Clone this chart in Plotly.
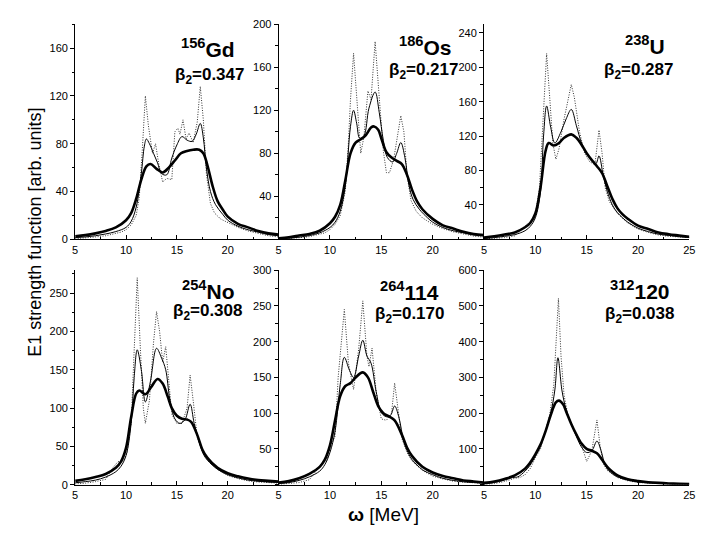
import plotly.graph_objects as go

# ---------------- data ----------------
GD_THICK = [(5,2.5),(6,3.5),(7,5),(8,7),(9,10),(10,16),(10.5,22),(11,34),(11.5,50),(12,61),(12.4,63),(13,59),(13.6,56),(14.2,60),(14.8,66),(15.4,72),(16,74),(16.6,75),(17.2,75),(17.6,72),(18,62),(18.5,45),(19,32),(19.5,25),(20,19),(21,13),(22,10),(23,7),(24,5),(25,4)]
GD_THIN = [(5,1.5),(6,2),(7,3),(8,4.5),(9,6.5),(10,10),(10.5,15),(11,27),(11.5,55),(11.8,78),(12,84),(12.3,80),(12.7,72),(13.1,64),(13.5,55),(14,54),(14.5,68),(15,79),(15.5,86),(16,83),(16.5,82),(16.9,88),(17.3,97),(17.6,85),(17.9,60),(18.3,40),(18.8,29),(19.5,21),(20,16),(21,11),(22,8),(23,6),(24,4),(25,3)]
GD_DOT = [(5,0.5),(6,1),(7,2),(8,3),(9,5),(9.5,6),(10,8),(10.5,12),(11,20),(11.3,35),(11.6,75),(11.9,120),(12.2,95),(12.6,72),(12.9,80),(13.2,64),(13.6,48),(14,51),(14.5,50),(14.8,90),(15.1,93),(15.3,88),(15.6,100),(15.9,84),(16.2,89),(16.6,81),(17.0,98),(17.3,128),(17.6,100),(17.9,55),(18.3,30),(18.7,22),(19.3,17),(20,14),(21,10),(22,7),(23,5),(24,3),(25,2)]

OS_THICK = [(5,1),(6,2),(7,3.5),(8,5),(9,8),(10,15),(10.5,21),(11,32),(11.5,55),(12,80),(12.5,90),(13,93),(13.5,97),(14,104),(14.3,105),(14.7,102),(15,94),(15.5,81),(16,76),(16.5,73),(17,70),(17.5,60),(18,46),(18.5,35),(19,28),(20,19),(21,13),(22,10),(23,7),(24,5),(25,4)]
OS_THIN = [(5,0.5),(6,1),(7,2),(8,3.5),(9,6),(10,11),(10.5,16),(11,26),(11.5,50),(12,105),(12.3,120),(12.6,108),(12.9,94),(13.3,96),(13.8,122),(14.4,137),(14.8,118),(15.2,92),(15.6,76),(16.1,72),(16.5,80),(16.9,90),(17.3,76),(17.7,50),(18.1,37),(18.7,28),(19.5,20),(20,16),(21,11),(22,8),(23,6),(24,4),(25,3)]
OS_DOT = [(5,0.3),(6,0.6),(7,1.5),(8,2.5),(9,4.5),(9.5,6),(10,9),(10.5,14),(11,22),(11.5,45),(11.8,90),(12.0,130),(12.3,173),(12.6,130),(12.9,85),(13.0,80),(13.3,95),(13.7,138),(14.0,130),(14.4,184),(14.8,132),(15.2,82),(15.5,62),(15.8,62),(16.2,74),(16.6,100),(16.9,115),(17.2,100),(17.5,60),(17.9,36),(18.4,26),(19,20),(20,14),(21,10),(22,7),(23,5),(24,3),(25,2)]

U_THICK = [(5,2),(6,3.5),(7,5.5),(8,8),(9,14),(9.5,19),(10,30),(10.5,60),(11,103),(11.3,112),(11.8,109),(12.3,112),(12.8,118),(13.5,122),(14,118),(14.5,110),(15,100),(15.5,92),(16,85),(16.5,77),(17,62),(17.5,47),(18,36),(18.5,29),(19,24),(20,16),(21,12),(22,8),(23,6),(24,4.5),(25,3)]
U_THIN = [(5,1),(6,2),(7,3.5),(8,5.5),(9,10),(9.5,15),(10,25),(10.5,55),(10.8,120),(11.1,155),(11.5,130),(11.9,112),(12.5,125),(13,140),(13.5,151),(14,132),(14.5,112),(15,100),(15.5,92),(15.9,88),(16.2,97),(16.6,75),(17,56),(17.5,40),(18,31),(19,20),(20,13),(21,9),(22,6),(23,4.5),(24,3),(25,2)]
U_DOT = [(5,0.5),(6,1),(7,2),(8,4),(8.7,12),(9.2,18),(9.7,20),(10,28),(10.4,60),(10.8,150),(11.1,216),(11.4,165),(11.7,112),(12.0,93),(12.3,105),(12.8,140),(13.2,165),(13.5,180),(13.8,165),(14.3,125),(14.8,100),(15.3,90),(15.8,87),(16.2,127),(16.5,100),(16.8,60),(17.2,44),(18,30),(19,19),(20,12),(21,8),(22,5),(23,3.5),(24,2.5),(25,2)]

NO_THICK = [(5,5),(6,7),(7,10),(8,14),(9,22),(9.5,30),(10,48),(10.5,88),(11,119),(11.3,123),(11.9,118),(12.5,128),(13.1,138),(13.6,132),(14.1,115),(14.5,100),(15,90),(15.5,86),(16,85),(16.4,82),(17,65),(17.5,46),(18,35),(19,22),(20,15),(21,11),(22,8),(23,6),(24,5),(25,4)]
NO_THIN = [(5,2.5),(6,4),(7,6),(8,10),(9,17),(9.5,24),(10,38),(10.5,80),(10.8,140),(11.1,176),(11.5,150),(11.9,108),(12.4,135),(13.0,178),(13.5,165),(13.9,150),(14.3,112),(14.8,86),(15.3,80),(15.8,85),(16.3,105),(16.7,80),(17.2,55),(17.6,40),(18,32),(19,20),(20,13),(21,9),(22,6),(23,4.5),(24,3.5),(25,3)]
NO_DOT = [(5,1),(6,2),(7,4),(8,7),(8.7,22),(9.2,30),(9.7,30),(10.1,42),(10.5,80),(10.8,180),(11.1,270),(11.4,180),(11.7,100),(11.9,80),(12.3,110),(12.7,185),(13.0,226),(13.3,200),(13.6,160),(13.9,180),(14.2,140),(14.5,92),(15,80),(15.5,80),(16.0,100),(16.3,143),(16.6,110),(17,62),(17.5,45),(18,33),(19,20),(20,12),(21,8),(22,5),(23,3.5),(24,2.5),(25,2)]

E114_THICK = [(5,3),(6,5),(7,9),(8,15),(9,25),(9.5,35),(10,55),(10.5,90),(11,124),(11.5,138),(12,142),(12.5,150),(13.2,157),(13.7,150),(14.2,130),(14.7,110),(15.2,100),(15.8,95),(16.3,90),(17,70),(17.5,52),(18,40),(19,25),(20,17),(21,12),(22,9),(23,6),(24,4.5),(25,3)]
E114_THIN = [(5,1.5),(6,3),(7,6),(8,11),(9,19),(9.5,28),(10,45),(10.5,75),(11,140),(11.4,178),(11.9,160),(12.3,150),(12.8,180),(13.2,202),(13.6,180),(14.0,170),(14.5,130),(15,101),(15.5,95),(15.9,97),(16.3,110),(16.7,95),(17.2,60),(17.6,45),(18,35),(19,21),(20,14),(21,9),(22,6),(23,4),(24,3),(25,2)]
E114_DOT = [(5,0.5),(6,1.5),(7,3),(8,7),(8.7,20),(9.2,30),(9.7,34),(10.1,55),(10.5,68),(10.8,150),(11.4,245),(11.8,170),(12.3,133),(12.8,190),(13.2,257),(13.6,180),(13.8,165),(14.1,191),(14.5,130),(15,92),(15.5,90),(16,100),(16.3,142),(16.6,110),(17,65),(17.5,45),(18,33),(19,20),(20,12),(21,8),(22,5),(23,3.5),(24,2.5),(25,2)]

E120_THICK = [(5,5),(6,9),(7,16),(8,26),(9,45),(9.5,62),(10,85),(10.5,112),(11,150),(11.5,195),(12,230),(12.3,235),(12.7,225),(13,205),(13.5,170),(14,140),(14.5,115),(15,100),(15.5,95),(16,88),(16.5,70),(17,50),(17.5,36),(18,26),(19,15),(20,10),(21,7),(22,5),(23,3.5),(24,2.5),(25,2)]
E120_THIN = [(5,2),(6,6),(7,13),(7.8,20),(8.3,22),(9,38),(9.5,55),(10,80),(10.5,108),(11,150),(11.5,200),(11.9,265),(12.2,355),(12.6,262),(13,210),(13.5,170),(14,135),(14.5,105),(15,90),(15.5,95),(16.0,122),(16.4,95),(16.8,55),(17.3,35),(18,22),(19,13),(20,8),(21,5),(22,3.5),(23,2.5),(24,2),(25,1.5)]
E120_DOT = [(5,1),(6,3),(7,9),(8,18),(8.5,20),(9,28),(9.5,45),(10,75),(10.5,100),(11,150),(11.4,195),(11.8,280),(12.05,400),(12.25,521),(12.5,360),(12.8,250),(13.2,190),(14,140),(14.5,110),(15,65),(15.5,95),(16.0,181),(16.3,110),(16.6,60),(17,40),(18,20),(19,11),(20,6),(21,4),(22,3),(23,2),(24,1.5),(25,1)]

NUCLEI_MASS = ["156", "186", "238", "254", "264", "312"]
NUCLEI_SYM = ["Gd", "Os", "U", "No", "114", "120"]
BETA2 = ["0.347", "0.217", "0.287", "0.308", "0.170", "0.038"]
Y_MAX = [180, 200, 250, 280, 300, 600]
Y_TICKS = [[0, 40, 80, 120, 160], [40, 80, 120, 160, 200], [40, 80, 120, 160, 200, 240],
           [0, 50, 100, 150, 200, 250], [50, 100, 150, 200, 250, 300], [100, 200, 300, 400, 500, 600]]
Y_MINOR = [20, 20, 20, 25, 25, 50]
X_TICKS = [[5, 10, 15, 20], [5, 10, 15, 20], [5, 10, 15, 20, 25]]

PANELS = [(GD_DOT, GD_THIN, GD_THICK), (OS_DOT, OS_THIN, OS_THICK), (U_DOT, U_THIN, U_THICK),
          (NO_DOT, NO_THIN, NO_THICK), (E114_DOT, E114_THIN, E114_THICK), (E120_DOT, E120_THIN, E120_THICK)]

# ---------------- layout geometry ----------------
W, H = 717, 535
COL_PX = [(65, 271), (271, 479), (479, 687)]
ROW_PX = [(10.5, 230.5), (262, 481.5)]
NAME_POS = [(200, 35), (420, 33), (642, 32), (200, 282), (404, 283), (637, 282)]
BETA_POS = [(202, 63), (418, 58), (636, 58), (199, 305), (404, 308), (637, 308)]
FONT = "Arial, Liberation Sans, sans-serif"

fig = go.Figure()
layout = dict(width=W, height=H, margin=dict(l=0, r=0, t=0, b=0),
              paper_bgcolor="white", plot_bgcolor="white", showlegend=False)

annotations = []
for i, (dot, thin, thick) in enumerate(PANELS):
    n = i + 1
    row, col = divmod(i, 3)
    xa = "x" if n == 1 else f"x{n}"
    ya = "y" if n == 1 else f"y{n}"
    styles = [
        (dot, dict(color="#333333", width=1, dash="1px,1.5px"), "linear"),
        (thin, dict(color="black", width=1), "spline"),
        (thick, dict(color="black", width=2.6), "spline"),
    ]
    for pts, line, shape in styles:
        fig.add_trace(go.Scatter(x=[p[0] for p in pts], y=[p[1] for p in pts],
                                 mode="lines", line=dict(shape=shape, **line),
                                 xaxis=xa, yaxis=ya, hoverinfo="skip"))
    x0, x1 = COL_PX[col]
    y0, y1 = ROW_PX[row]
    xkey = "xaxis" if n == 1 else f"xaxis{n}"
    ykey = "yaxis" if n == 1 else f"yaxis{n}"
    layout[xkey] = dict(domain=[x0 / W, x1 / W], anchor=ya, range=[5, 25],
                        tickmode="array", tickvals=X_TICKS[col], ticks="inside",
                        ticklen=4, tickwidth=1, tickcolor="black",
                        minor=dict(tickmode="array", tickvals=[7.5, 12.5, 17.5, 22.5],
                                   ticks="inside", ticklen=2.5, tickcolor="black"),
                        showline=True, linecolor="black", linewidth=1,
                        showgrid=False, zeroline=False,
                        tickfont=dict(family=FONT, size=11, color="black"))
    ymin_vals = [v for v in range(0, Y_MAX[i] + 1, Y_MINOR[i]) if v not in Y_TICKS[i]]
    layout[ykey] = dict(domain=[1 - y1 / H, 1 - y0 / H], anchor=xa, range=[0, Y_MAX[i]],
                        tickmode="array", tickvals=Y_TICKS[i], ticks="outside",
                        ticklen=4, tickwidth=1, tickcolor="black",
                        minor=dict(tickmode="array", tickvals=ymin_vals,
                                   ticks="outside", ticklen=2.5, tickcolor="black"),
                        showline=True, linecolor="black", linewidth=1,
                        showgrid=False, zeroline=False,
                        tickfont=dict(family=FONT, size=11, color="black"))
    nx, ny = NAME_POS[i]
    annotations.append(dict(xref="paper", yref="paper", x=nx / W, y=1 - ny / H,
                            xanchor="center", yanchor="middle", showarrow=False,
                            text=f"<b><sup>{NUCLEI_MASS[i]}</sup>{NUCLEI_SYM[i]}</b>",
                            font=dict(family=FONT, size=21, color="black")))
    bx, by = BETA_POS[i]
    annotations.append(dict(xref="paper", yref="paper", x=bx / W, y=1 - by / H,
                            xanchor="center", yanchor="middle", showarrow=False,
                            text=f"<b>β<sub>2</sub>=" + BETA2[i] + "</b>",
                            font=dict(family=FONT, size=17, color="black")))

annotations.append(dict(xref="paper", yref="paper", x=24 / W, y=1 - 223 / H,
                        xanchor="center", yanchor="middle", showarrow=False, textangle=-90,
                        text="E1 strength function [arb. units]",
                        font=dict(family=FONT, size=18, color="black")))
annotations.append(dict(xref="paper", yref="paper", x=377 / W, y=1 - 512 / H,
                        xanchor="center", yanchor="middle", showarrow=False,
                        text="<b>ω</b> [MeV]",
                        font=dict(family=FONT, size=19, color="black")))
layout["annotations"] = annotations
fig.update_layout(**layout)
fig.write_html("out.html")
